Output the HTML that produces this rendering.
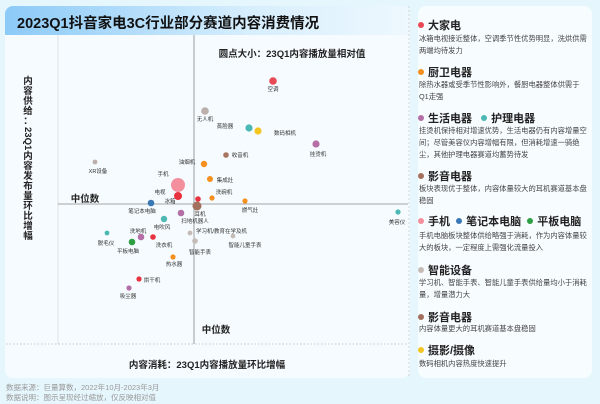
<!DOCTYPE html>
<html><head><meta charset="utf-8"><style>
*{margin:0;padding:0;box-sizing:border-box}
body{width:600px;height:404px;background:#e6f6fd;font-family:"Liberation Sans","Noto Sans CJK SC",sans-serif;position:relative;overflow:hidden}
.card{position:absolute;left:5px;top:6px;width:405px;height:372px;background:#f5fbfe;border-radius:8px;overflow:hidden}
.tbar{position:absolute;left:0;top:0;width:405px;height:29px;background:linear-gradient(90deg,#8ccaf7,#d6eefd 60%,#eef8fe)}
.title{position:absolute;left:12px;top:6px;font-size:14.5px;font-weight:bold;color:#111}
.rc{position:absolute;left:418px;top:6px;width:174px;height:372px;background:#f7fcff;border-radius:8px}
.h{position:absolute;left:428px;font-size:11px;font-weight:bold;color:#222;white-space:nowrap}
.p{position:absolute;left:419px;font-size:7.3px;color:#444;line-height:12px;width:170px}
.d{display:inline-block;width:6px;height:6px;border-radius:50%;margin-right:4px;vertical-align:1px}
.foot{position:absolute;left:6px;font-size:7.5px;color:#999}
</style></head><body>
<div class="card"><div class="tbar"></div><div class="title">2023Q1抖音家电3C行业部分赛道内容消费情况</div></div>
<svg style="position:absolute;left:0;top:0" width="600" height="404" font-family="Liberation Sans, Noto Sans CJK SC, sans-serif">
<g font-size="9.5" font-weight="bold" fill="#222" text-anchor="middle">
<text x="28" y="84">内</text><text x="28" y="94">容</text><text x="28" y="104">供</text><text x="28" y="114">给</text><text x="28" y="124">：</text>
<text transform="translate(25,127) rotate(90)" text-anchor="start">23Q1</text>
<text x="28" y="159">内</text><text x="28" y="169">容</text><text x="28" y="179">发</text><text x="28" y="189">布</text><text x="28" y="199">量</text><text x="28" y="209">环</text><text x="28" y="219">比</text><text x="28" y="229">增</text><text x="28" y="239">幅</text>
</g>
<line x1="58" y1="35" x2="58" y2="344" stroke="#ddd" stroke-width="0.8"/>
<line x1="194" y1="35" x2="194" y2="344" stroke="#888" stroke-width="0.8"/>
<line x1="58" y1="204" x2="408" y2="204" stroke="#888" stroke-width="0.8"/>
<line x1="6" y1="344" x2="408" y2="344" stroke="#bbb" stroke-width="0.8" stroke-dasharray="1.5,2"/>
<line x1="409" y1="6" x2="409" y2="378" stroke="#ccc" stroke-width="0.8" stroke-dasharray="2,2"/>
<text x="292" y="57" font-size="9.5" font-weight="bold" text-anchor="middle" fill="#222">圆点大小：23Q1内容播放量相对值</text>
<text x="85" y="202" font-size="9.5" font-weight="bold" text-anchor="middle" fill="#222">中位数</text>
<text x="216" y="333" font-size="9.5" font-weight="bold" text-anchor="middle" fill="#222">中位数</text>
<text x="207" y="368" font-size="9.5" font-weight="bold" text-anchor="middle" fill="#222">内容消耗：23Q1内容播放量环比增幅</text>
<g font-size="5.5" fill="#333" text-anchor="middle">
<circle cx="273" cy="81" r="3.8" fill="#e84a55"/><text x="273" y="91">空调</text>
<circle cx="205" cy="111" r="3.8" fill="#bbb0ab"/><text x="205" y="121">无人机</text>
<circle cx="249" cy="128" r="3.6" fill="#4bb8b3"/><text x="225" y="128">蒸脸器</text>
<circle cx="258" cy="131" r="3.6" fill="#f3c623"/><text x="285" y="135">数码相机</text>
<circle cx="316" cy="144" r="3.6" fill="#b46fa6"/><text x="318" y="156">挂烫机</text>
<circle cx="226" cy="155" r="2.8" fill="#a87560"/><text x="240" y="157">收音机</text>
<circle cx="95" cy="162" r="2.4" fill="#bbb0ab"/><text x="98" y="173">XR设备</text>
<circle cx="204" cy="164" r="3.2" fill="#f58f1f"/><text x="187" y="164">油烟机</text>
<circle cx="178" cy="185" r="7" fill="#f4909e"/><text x="163" y="176">手机</text>
<circle cx="210" cy="179" r="3" fill="#f58f1f"/><text x="225" y="182">集成灶</text>
<circle cx="178" cy="196" r="4" fill="#e8323f"/><text x="160" y="194">电视</text><text x="170" y="203">冰箱</text>
<circle cx="212" cy="198" r="2.6" fill="#f58f1f"/><text x="224" y="194">洗碗机</text>
<circle cx="198" cy="199" r="2.8" fill="#e8323f"/>
<circle cx="245" cy="201" r="2.6" fill="#f58f1f"/><text x="250" y="212">燃气灶</text>
<circle cx="197" cy="206" r="4.5" fill="#a2705c"/><text x="200" y="216">耳机</text>
<circle cx="151" cy="203" r="3.3" fill="#3a78b5"/><text x="142" y="213">笔记本电脑</text>
<circle cx="181" cy="213" r="3.3" fill="#b46fa6"/><text x="195" y="223">扫地机器人</text>
<circle cx="398" cy="212" r="2.6" fill="#4bb8b3"/><text x="397" y="224">美容仪</text>
<circle cx="164" cy="219" r="3.2" fill="#4bb8b3"/><text x="162" y="229">电吹风</text>
<circle cx="190" cy="233" r="2.4" fill="#c5bcb7"/><text x="196" y="233" text-anchor="start">学习机/教育在学及机</text>
<circle cx="141" cy="237" r="3.3" fill="#b46fa6"/><text x="138" y="233">洗地机</text>
<circle cx="107" cy="233" r="2.4" fill="#4bb8b3"/><text x="106" y="245">脱毛仪</text>
<circle cx="233" cy="236" r="2.4" fill="#c5bcb7"/><text x="245" y="247">智能儿童手表</text>
<circle cx="153" cy="237" r="2.8" fill="#e8323f"/><text x="164" y="247">洗衣机</text>
<circle cx="132" cy="242" r="3.3" fill="#2ea043"/><text x="128" y="253">平板电脑</text>
<circle cx="195" cy="241" r="2.8" fill="#c5bcb7"/><text x="200" y="254">智能手表</text>
<circle cx="173" cy="257" r="2.6" fill="#f58f1f"/><text x="174" y="266">热水器</text>
<circle cx="139" cy="279" r="2.6" fill="#e8323f"/><text x="152" y="282">烘干机</text>
<circle cx="129" cy="288" r="2.6" fill="#b46fa6"/><text x="128" y="298">吸尘器</text>
</g>
</svg>
<div class="rc"></div>
<div class="h" style="left:418px;top:17px"><span class="d" style="background:#e84a55"></span>大家电</div>
<div class="p" style="top:33px">冰箱电视接近整体，空调季节性优势明显，洗烘供需两端均待发力</div>
<div class="h" style="left:418px;top:64px"><span class="d" style="background:#f58f1f"></span>厨卫电器</div>
<div class="p" style="top:79px">除热水器或受季节性影响外，餐厨电器整体供需于Q1走强</div>
<div class="h" style="left:418px;top:110px"><span class="d" style="background:#b46fa6"></span>生活电器 &nbsp;&nbsp;<span class="d" style="background:#4bb8b3"></span>护理电器</div>
<div class="p" style="top:125px">挂烫机保持相对增速优势，生活电器仍有内容增量空间；尽管美容仪内容增幅有限，但消耗增速一骑绝尘，其他护理电器赛道均蓄势待发</div>
<div class="h" style="left:418px;top:168px"><span class="d" style="background:#a2705c"></span>影音电器</div>
<div class="p" style="top:183px">板块表现优于整体，内容体量较大的耳机赛道基本盘稳固</div>
<div class="h" style="left:418px;top:213px"><span class="d" style="background:#f4909e"></span>手机 &nbsp;<span class="d" style="background:#3a78b5"></span>笔记本电脑 &nbsp;<span class="d" style="background:#2ea043"></span>平板电脑</div>
<div class="p" style="top:230px">手机电脑板块整体供给略强于消耗，作为内容体量较大的板块，一定程度上需强化流量投入</div>
<div class="h" style="left:418px;top:262px"><span class="d" style="background:#c5bcb7"></span>智能设备</div>
<div class="p" style="top:277px">学习机、智能手表、智能儿童手表供给量均小于消耗量，增量潜力大</div>
<div class="h" style="left:418px;top:309px"><span class="d" style="background:#a2705c"></span>影音电器</div>
<div class="p" style="top:323px">内容体量更大的耳机赛道基本盘稳固</div>
<div class="h" style="left:418px;top:342px"><span class="d" style="background:#f3c623"></span>摄影/摄像</div>
<div class="p" style="top:358px">数码相机内容热度快速提升</div>
<div class="foot" style="top:382px">数据来源：巨量算数，2022年10月-2023年3月</div>
<div class="foot" style="top:392px">数据说明：图示呈现经过缩放，仅反映相对值</div>
</body></html>
